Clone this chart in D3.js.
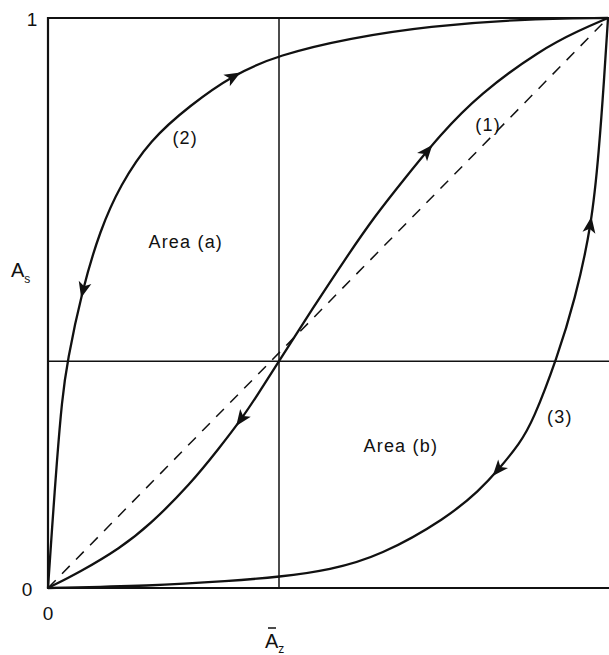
<!DOCTYPE html>
<html>
<head>
<meta charset="utf-8">
<script src="https://cdn.jsdelivr.net/npm/d3@7"></script>
<style>
  body { margin: 0; background: #fff; }
  svg text { font-family: "Liberation Sans", Arial, sans-serif; fill: #111; }
</style>
</head>
<body>
<div id="chart"></div>
<script>
// curves, [Az, As]
var curve1 = [[0, 0], [0.057, 0.028], [0.129, 0.070], [0.182, 0.111], [0.254, 0.182], [0.307, 0.247],
  [0.343, 0.293], [0.373, 0.337], [0.4125, 0.398], [0.471, 0.488], [0.532, 0.579], [0.584, 0.653],
  [0.6375, 0.719], [0.700, 0.795], [0.771, 0.867], [0.879, 0.944], [0.95, 0.979], [1, 1]];
var curve2 = [[0, 0], [0.007, 0.102], [0.016, 0.225], [0.025, 0.330], [0.034, 0.396], [0.061, 0.523],
  [0.093, 0.628], [0.129, 0.707], [0.182, 0.786], [0.254, 0.847], [0.330, 0.900], [0.411, 0.935],
  [0.539, 0.965], [0.682, 0.986], [0.843, 0.998], [1, 1]];
var curve3 = [[0, 0], [0.182, 0.0035], [0.325, 0.0123], [0.4125, 0.0193], [0.504, 0.0316], [0.593, 0.0561],
  [0.7125, 0.1228], [0.771, 0.1719], [0.804, 0.2070], [0.843, 0.2544], [0.866, 0.2930], [0.909, 0.4035],
  [0.941, 0.5053], [0.971, 0.6368], [0.984, 0.7684], [0.993, 0.8912], [1, 1]];
var diagonal = [[0, 0], [1, 1]];

// reference lines through the middle
var refX = 0.4125, refY = 0.398;

// arrows: curve, point near which the head sits, direction along the curve
var arrows = [
  { curve: 0, at: [0.675, 0.768], dir: 1 },
  { curve: 0, at: [0.346, 0.295], dir: -1 },
  { curve: 1, at: [0.330, 0.900], dir: 1 },
  { curve: 1, at: [0.061, 0.523], dir: -1 },
  { curve: 2, at: [0.971, 0.637], dir: 1 },
  { curve: 2, at: [0.804, 0.207], dir: -1 }
];

var labels = [
  { text: "(1)", at: [0.786, 0.812] },
  { text: "(2)", at: [0.245, 0.790] },
  { text: "(3)", at: [0.914, 0.300] },
  { text: "Area (a)", at: [0.246, 0.607] },
  { text: "Area (b)", at: [0.630, 0.250] }
];

var yTicks = [0, 1];
var xTicks = [0];

var W = 609, H = 655;
var margin = { top: 18, right: 1, bottom: 67, left: 48 };

var svg = d3.select("#chart").append("svg")
  .attr("width", W).attr("height", H);

var x = d3.scaleLinear().domain([0, 1]).range([margin.left, W - margin.right]);
var y = d3.scaleLinear().domain([0, 1]).range([H - margin.bottom, margin.top]);

// frame: left, top, bottom (right edge is cut off)
var frame = svg.append("g").attr("stroke", "#111").attr("fill", "none");
frame.append("path")
  .attr("d", "M" + (x(1) + 1) + "," + y(1) + "H" + x(0) + "V" + y(0) + "H" + (x(1) + 1))
  .attr("stroke-width", 2.2);
frame.append("line")
  .attr("x1", x(refX)).attr("x2", x(refX)).attr("y1", y(1)).attr("y2", y(0))
  .attr("stroke-width", 1.5);
frame.append("line")
  .attr("x1", x(0)).attr("x2", x(1) + 1).attr("y1", y(refY)).attr("y2", y(refY))
  .attr("stroke-width", 1.5);

var line = d3.line().x(d => x(d[0])).y(d => y(d[1]));
var smooth = d3.line().x(d => x(d[0])).y(d => y(d[1])).curve(d3.curveBasis);

svg.append("path")
  .attr("d", line(diagonal))
  .attr("fill", "none").attr("stroke", "#111")
  .attr("stroke-width", 1.5).attr("stroke-dasharray", "11,9");

var paths = [curve1, curve2, curve3].map(function (c) {
  return svg.append("path")
    .attr("d", smooth(c))
    .attr("fill", "none").attr("stroke", "#111")
    .attr("stroke-width", 2.3)
    .node();
});

// arrowheads placed on the drawn curves
arrows.forEach(function (a) {
  var p = paths[a.curve], total = p.getTotalLength();
  var tx = x(a.at[0]), ty = y(a.at[1]);
  var best = 0, bestD = Infinity;
  for (var l = 0; l <= total; l += 0.5) {
    var q = p.getPointAtLength(l);
    var dd = (q.x - tx) * (q.x - tx) + (q.y - ty) * (q.y - ty);
    if (dd < bestD) { bestD = dd; best = l; }
  }
  var p0 = p.getPointAtLength(Math.max(0, best - 3));
  var p1 = p.getPointAtLength(Math.min(total, best + 3));
  var ang = Math.atan2(p1.y - p0.y, p1.x - p0.x) * 180 / Math.PI;
  if (a.dir < 0) ang += 180;
  var c = p.getPointAtLength(best);
  svg.append("path")
    .attr("d", "M8,0L-8,-6.5L-4,0L-8,6.5Z")
    .attr("fill", "#111")
    .attr("transform", "translate(" + c.x + "," + c.y + ") rotate(" + ang + ")");
});

svg.selectAll(".lab").data(labels).enter().append("text")
  .attr("class", "lab")
  .attr("x", d => x(d.at[0])).attr("y", d => y(d.at[1]))
  .attr("text-anchor", "middle").attr("dominant-baseline", "central")
  .style("font-size", "18px").style("letter-spacing", "1.2px")
  .text(d => d.text);

// tick labels
svg.selectAll(".yt").data(yTicks).enter().append("text")
  .attr("x", d => d === 1 ? 32 : 27).attr("y", d => y(d) + 1)
  .attr("text-anchor", "middle").attr("dominant-baseline", "central")
  .style("font-size", "19px")
  .text(d => d);
svg.selectAll(".xt").data(xTicks).enter().append("text")
  .attr("x", d => x(d)).attr("y", y(0) + 25)
  .attr("text-anchor", "middle").attr("dominant-baseline", "central")
  .style("font-size", "19px")
  .text(d => d);

// axis titles
var yt = svg.append("text").attr("x", 11).attr("y", 277).style("font-size", "20px");
yt.append("tspan").text("A");
yt.append("tspan").attr("dy", 6).style("font-size", "12px").text("s");

var xt = svg.append("text").attr("x", x(refX) - 14).attr("y", 648).style("font-size", "20px");
xt.append("tspan").text("A");
xt.append("tspan").attr("dy", 5).style("font-size", "12px").text("z");
svg.append("line")
  .attr("x1", x(refX) - 11).attr("x2", x(refX) - 3)
  .attr("y1", 628).attr("y2", 628)
  .attr("stroke", "#111").attr("stroke-width", 1.5);
</script>
</body>
</html>
